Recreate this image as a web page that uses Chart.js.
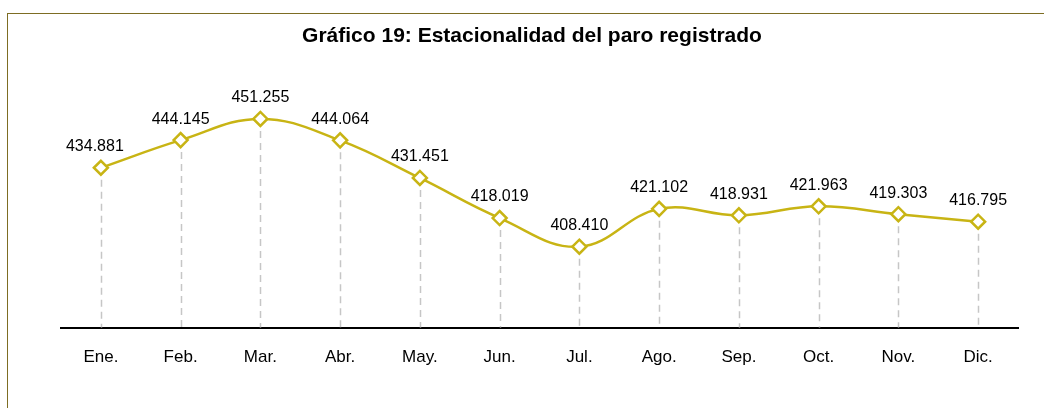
<!DOCTYPE html>
<html>
<head>
<meta charset="utf-8">
<script src="https://cdn.jsdelivr.net/npm/chart.js@4.4.1/dist/chart.umd.min.js"></script>
<style>
html,body{margin:0;padding:0;background:#fff;}
#wrap{position:relative;width:1044px;height:408px;overflow:hidden;}
#frame{position:absolute;left:7px;top:13px;width:1100px;height:500px;border-left:1px solid #7d6d23;border-top:1px solid #7d6d23;}
canvas{position:absolute;left:0;top:0;}
#title{position:absolute;left:0;width:1064px;top:22px;text-align:center;font:bold 21px "Liberation Sans", Arial, sans-serif;color:#000;line-height:25px;white-space:nowrap;}
</style>
</head>
<body>
<div id="wrap">
<div id="frame"></div>
<canvas id="c" width="1044" height="408"></canvas>
<div id="title"></div>
</div>
<script>
const categories = ["Ene.","Feb.","Mar.","Abr.","May.","Jun.","Jul.","Ago.","Sep.","Oct.","Nov.","Dic."];
const values = [434881,444145,451255,444064,431451,418019,408410,421102,418931,421963,419303,416795];
const titleText = "Gráfico 19: Estacionalidad del paro registrado";
document.getElementById('title').textContent = titleText;

function fmt(v){return String(v).replace(/\B(?=(\d{3})+(?!\d))/g,".");}
const FONT='"Liberation Sans", Arial, sans-serif';

const dropLines = {
  id:'dropLines',
  beforeDatasetsDraw(chart){
    const ctx=chart.ctx, meta=chart.getDatasetMeta(0), base=chart.chartArea.bottom;
    ctx.save();
    ctx.strokeStyle='#c6c6c6'; ctx.lineWidth=1.5; ctx.setLineDash([7,5]);
    meta.data.forEach(p=>{ctx.beginPath();ctx.moveTo(Math.round(p.x)+0.5,p.y);ctx.lineTo(Math.round(p.x)+0.5,base);ctx.stroke();});
    ctx.restore();
  }
};
const labels = {
  id:'valLabels',
  afterDatasetsDraw(chart){
    const ctx=chart.ctx, meta=chart.getDatasetMeta(0);
    ctx.save();
    ctx.font='16px '+FONT;
    ctx.fillStyle='#000'; ctx.textAlign='center'; ctx.textBaseline='middle';
    meta.data.forEach((p,i)=>{
      const dx = i===0 ? -6 : 0;
      ctx.fillText(fmt(values[i]),p.x+dx,p.y-21);
    });
    ctx.restore();
  }
};

new Chart(document.getElementById('c'),{
  type:'line',
  data:{labels:categories,datasets:[{
    data:values,
    borderColor:'#c8b414',
    borderWidth:2.5,
    tension:0.4,
    pointStyle:'rectRot',
    pointRadius:7,
    pointBorderWidth:2.5,
    pointBackgroundColor:'#ffffff',
    pointBorderColor:'#c8b414',
    clip:false
  }]},
  options:{
    responsive:false,animation:false,
    layout:{padding:{left:61,right:26,top:60,bottom:20}},
    plugins:{
      legend:{display:false},tooltip:{enabled:false},title:{display:false}
    },
    scales:{
      x:{offset:true,grid:{display:false,drawTicks:false},
        border:{display:true,color:'#000',width:2},
        ticks:{color:'#000',padding:20,font:{family:FONT,size:17}}},
      y:{display:false,min:381300,max:471000}
    }
  },
  plugins:[dropLines,labels]
});
</script>
</body>
</html>
